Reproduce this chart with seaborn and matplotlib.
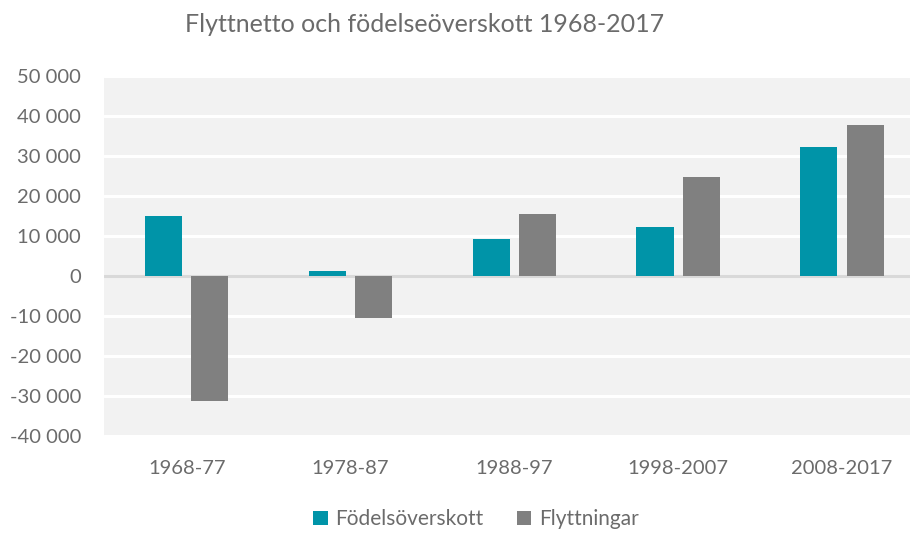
import pandas as pd
import seaborn as sns
import matplotlib.pyplot as plt
from matplotlib.ticker import FuncFormatter, MultipleLocator

periods = ['1968-77', '1978-87', '1988-97', '1998-2007', '2008-2017']
fodelse = [15000, 1200, 9300, 12300, 32300]
flytt = [-31200, -10500, 15500, 24800, 37700]
series = ['Födelsöverskott', 'Flyttningar']
colors = ['#0094A8', '#808080']

df = pd.DataFrame({
    'period': periods * 2,
    'value': fodelse + flytt,
    'serie': [series[0]] * len(periods) + [series[1]] * len(periods),
})

sns.set_style('white')
plt.rcParams['font.family'] = ['Lato', 'DejaVu Sans']
txt = '#6b6b6b'

fig = plt.figure(figsize=(9.1, 5.33), dpi=100)
ax = fig.add_axes([0.1143, 0.182, 0.8857, 0.675])
ax.set_facecolor('#F2F2F2')

sns.barplot(data=df, x='period', y='value', hue='serie', palette=colors,
            width=0.565, gap=0.196, saturation=1, linewidth=0, ax=ax, zorder=3)

ax.set_xlim(-0.505, 4.415)
ax.set_ylim(-40000, 50000)
ax.yaxis.set_major_locator(MultipleLocator(10000))
ax.yaxis.set_major_formatter(FuncFormatter(
    lambda v, p: '0' if v == 0 else ('-' if v < 0 else '') + f'{abs(int(v)):,}'.replace(',', ' ')))
ax.grid(axis='y', color='white', linewidth=2.2, zorder=0)
ax.set_axisbelow(True)
ax.axhline(0, color='#D9D9D9', linewidth=2.2, zorder=2)
for s in ax.spines.values():
    s.set_visible(False)

ax.set_xlabel('')
ax.set_ylabel('')
ax.tick_params(axis='y', length=0, pad=16.5, labelsize=14.5, labelcolor=txt)
ax.tick_params(axis='x', length=0, pad=17, labelsize=14.5, labelcolor=txt)

fig.suptitle('Flyttnetto och födelseöverskott 1968-2017', x=0.467, y=0.975,
             fontsize=18, color=txt)

sns.move_legend(ax, 'center', bbox_to_anchor=(0.523, 0.026),
                bbox_transform=fig.transFigure, ncol=2,
                frameon=False, title=None, fontsize=15, handlelength=0.7,
                handleheight=0.7, handletextpad=0.35, columnspacing=1.6,
                labelcolor=txt)

fig.savefig('out.png', dpi=100, facecolor='white')
